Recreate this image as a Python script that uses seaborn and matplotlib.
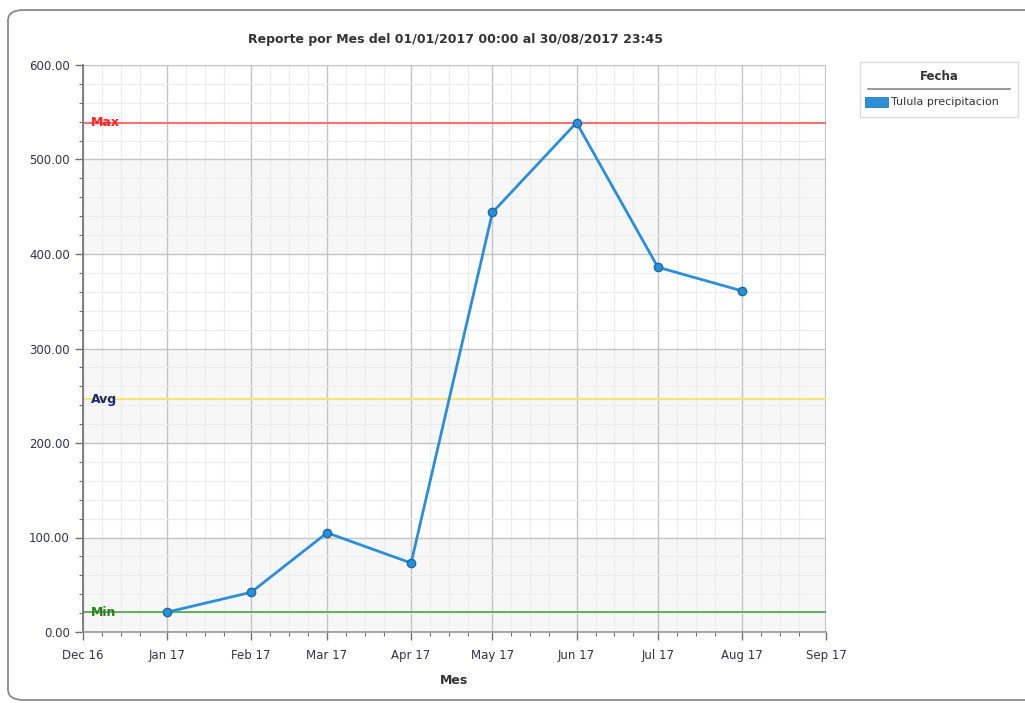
import numpy as np, pandas as pd, matplotlib
matplotlib.use("Agg")
import matplotlib.pyplot as plt
import matplotlib.dates as mdates
from matplotlib.patches import FancyBboxPatch, Rectangle
from matplotlib.ticker import MultipleLocator, FormatStrFormatter
import seaborn as sns

# ==========================
# DATA
# ==========================
meses   = ["2017-01-01", "2017-02-01", "2017-03-01", "2017-04-01",
           "2017-05-01", "2017-06-01", "2017-07-01", "2017-08-01"]
precip  = [21.0, 42.0, 105.0, 73.0, 444.0, 539.0, 386.0, 361.0]
serie   = "Tulula precipitacion"
titulo  = "Reporte por Mes del 01/01/2017 00:00 al 30/08/2017 23:45"

df = pd.DataFrame({"Mes": pd.to_datetime(meses), "valor": precip})
v_max, v_min, v_avg = max(precip), min(precip), float(np.mean(precip))

# ==========================
# FIGURA
# ==========================
sns.set_theme(style="white")
plt.rcParams["font.family"] = ["DejaVu Sans"]
W, H = 1025, 703
fig = plt.figure(figsize=(W / 100, H / 100), dpi=100, facecolor="white")

# marco redondeado exterior
frame = FancyBboxPatch((8 / W, 3 / H), 1.05, 690 / H, boxstyle="round,pad=0,rounding_size=0.015",
                       transform=fig.transFigure, fc="white", ec="#8a8a8a", lw=1.3, zorder=-5)
fig.patches.append(frame)

ax = fig.add_axes([83 / W, 1 - 632 / H, (826 - 83) / W, (632 - 65) / H])
ax.set_zorder(2)
ax.set_facecolor("white")

# bandas alternas
for k in range(0, 600, 100):
    if (k // 100) % 2 == 0:
        ax.axhspan(k, k + 100, color="#f7f7f7", zorder=0, lw=0)

x0, x1 = pd.Timestamp("2016-12-01"), pd.Timestamp("2017-09-01")
ax.set_xlim(x0, x1)
ax.set_ylim(0, 600)

ax.xaxis.set_major_locator(mdates.MonthLocator())
ax.xaxis.set_major_formatter(mdates.DateFormatter("%b %y"))
ax.xaxis.set_minor_locator(mdates.DayLocator(bymonthday=[8, 15, 22]))
ax.yaxis.set_major_locator(MultipleLocator(100))
ax.yaxis.set_minor_locator(MultipleLocator(20))
ax.yaxis.set_major_formatter(FormatStrFormatter("%.2f"))

ax.grid(which="minor", color="#ececec", lw=0.8, zorder=1)
ax.grid(which="major", color="#c4c4c4", lw=1.0, zorder=1)

# lineas de referencia
ax.axhline(v_max, color="#ff7070", lw=1.5, zorder=2)
ax.axhline(v_avg, color="#f7e37a", lw=1.5, zorder=2)
ax.axhline(v_min, color="#5aa85a", lw=1.3, zorder=2)
etiq_x = mdates.date2num(x0) + 3.0
ax.text(etiq_x, v_max, "Max", color="#ff2020", fontsize=9, fontweight="bold", va="center", zorder=3)
ax.text(etiq_x, v_avg, "Avg", color="#1a237e", fontsize=9, fontweight="bold", va="center", zorder=3)
ax.text(etiq_x, v_min, "Min", color="#2e7d1e", fontsize=9, fontweight="bold", va="center", zorder=3)

sns.lineplot(data=df, x="Mes", y="valor", ax=ax, color="#2b8fd8", lw=2.0, marker="o",
             markersize=6, markerfacecolor="#2b8fd8", markeredgecolor="#1c6aa6",
             markeredgewidth=1.0, zorder=4, legend=False)

for s in ["top", "right"]:
    ax.spines[s].set_visible(False)
ax.spines["left"].set_color("#707070")
ax.spines["bottom"].set_color("#9a9a9a")
ax.spines["left"].set_linewidth(1.2)
ax.spines["bottom"].set_linewidth(1.2)
ax.axvline(x1, color="#c4c4c4", lw=1.5, zorder=1)

ax.tick_params(axis="both", which="major", direction="out", length=6, width=1, color="#707070",
               labelsize=8.5, labelcolor="#333344", left=True, bottom=True)
ax.tick_params(axis="both", which="minor", direction="out", length=3, width=0.8, color="#707070",
               left=True, bottom=True)
ax.tick_params(axis="x", which="major", pad=6)

ax.set_xlabel("Mes", fontsize=9, fontweight="bold", color="#333333", labelpad=9)
ax.set_ylabel("")
fig.text(455 / W, 1 - 39 / H, titulo, ha="center", va="center", fontsize=9,
         fontweight="bold", color="#333333")

# leyenda
leg_box = FancyBboxPatch((860 / W, 1 - 117 / H), 158 / W, 55 / H, boxstyle="square,pad=0",
                         transform=fig.transFigure, fc="white", ec="#dddddd", lw=1)
fig.patches.append(leg_box)
fig.text(939 / W, 1 - 77 / H, "Fecha", ha="center", va="center", fontsize=8.5,
         fontweight="bold", color="#333333")
fig.add_artist(plt.Line2D([868 / W, 1010 / W], [1 - 89 / H, 1 - 89 / H],
                          transform=fig.transFigure, color="#9a9a9a", lw=1.5))
fig.patches.append(Rectangle((865 / W, 1 - 107 / H), 23 / W, 10 / H,
                             transform=fig.transFigure, fc="#2b8fd8", ec="#1c6aa6", lw=0.5))
fig.text(891 / W, 1 - 102 / H, serie, ha="left", va="center", fontsize=8, color="#333333")

fig.savefig("out.png", dpi=100, facecolor="white")
